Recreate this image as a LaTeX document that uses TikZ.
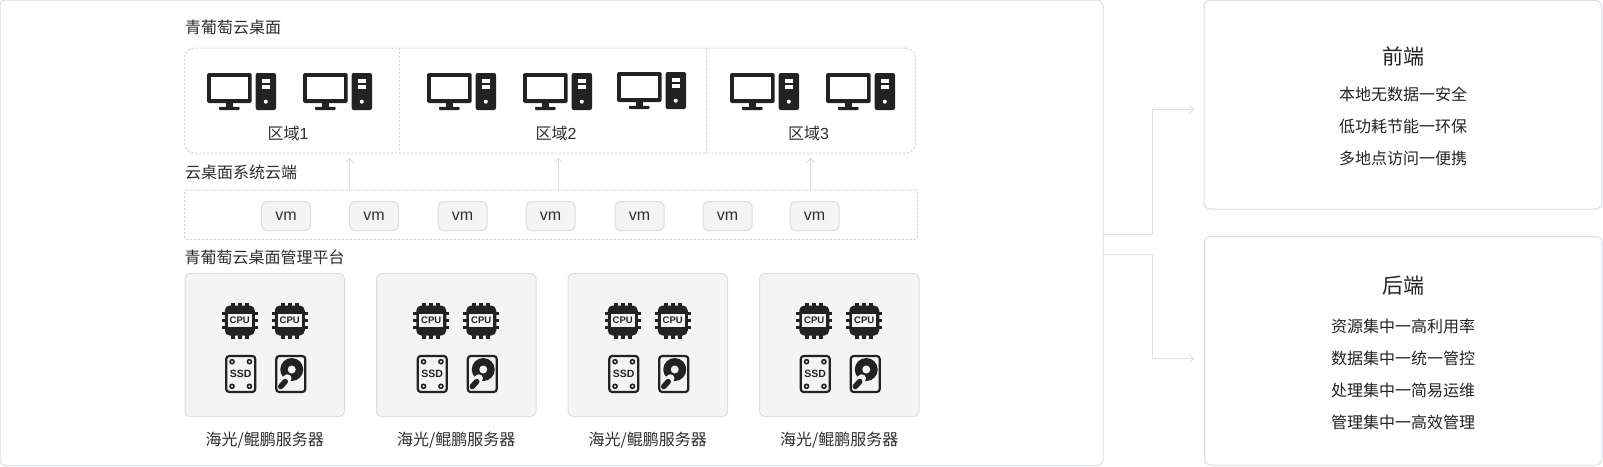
\documentclass[tikz,border=0pt]{standalone}
\usepackage{fontspec}
\usepackage{xcolor}
\setmainfont{Noto Sans CJK SC}
\newfontfamily\latinfont{Liberation Sans}
\definecolor{edgeblue}{HTML}{D6DFEC}
\definecolor{panelgray}{HTML}{DADFE6}
\definecolor{dashgray}{HTML}{D2D2D2}
\definecolor{boxgray}{HTML}{F4F4F4}
\definecolor{linegray}{HTML}{DDDDDD}
\definecolor{inkdark}{HTML}{222222}
\definecolor{textdark}{HTML}{2E2E2E}
\usetikzlibrary{arrows.meta,positioning,calc}
\newcommand{\pxfont}[1]{\fontsize{#1}{#1}\selectfont}
\tikzset{
  panel/.style={draw=edgeblue, fill=white, line width=1pt, rounded corners=6pt, anchor=north west, inner sep=0pt, outer sep=0pt},
  dashbox/.style={draw=dashgray, dash pattern=on 2pt off 2pt, line width=1pt, anchor=north west, inner sep=0pt, outer sep=0pt},
  vmbox/.style={draw=linegray, fill=boxgray, line width=1pt, rounded corners=5pt, minimum width=49pt, minimum height=29pt, inner sep=0pt, outer sep=0pt, font=\latinfont\pxfont{16}, text=textdark},
  serverbox/.style={draw=linegray, fill=boxgray, line width=1pt, rounded corners=5pt, minimum width=159.5pt, minimum height=143pt, inner sep=0pt, outer sep=0pt},
  heading/.style={anchor=west, inner sep=0pt, font=\pxfont{16}, text=textdark},
  caption/.style={inner sep=0pt, font=\pxfont{16}, text=textdark},
  bigtitle/.style={inner sep=0pt, font=\pxfont{21}, text=inkdark},
  item/.style={inner sep=0pt, font=\pxfont{16}, text=inkdark},
  link/.style={draw=edgeblue, line width=1pt, -{Straight Barb[length=4pt,width=8pt]}},
  uplink/.style={draw=linegray, line width=1pt, -{Straight Barb[length=4pt,width=8pt]}},
  pcicon/.pic={
    \fill[inkdark, rounded corners=1.5pt] (0,0) rectangle (44.7,30);
    \fill[white] (3.6,3.6) rectangle (41,26.4);
    \fill[inkdark] (18.5,30) rectangle (26,34);
    \fill[inkdark, rounded corners=0.8pt] (12,33.8) rectangle (32.5,37);
    \fill[inkdark, rounded corners=2pt] (48.7,0) rectangle (69,37);
    \fill[white] (54.7,6.3) rectangle (63,10.3);
    \fill[white] (54.7,11.7) rectangle (63,16.3);
    \fill[white] (58.8,28.7) circle (2);
  },
  cpuicon/.pic={
    \foreach \p in {-7,0,7}{
      \fill[inkdark] (\p-2,-18) rectangle (\p+2,18);
      \fill[inkdark] (-18,\p-1.5) rectangle (18,\p+1.5);
    }
    \fill[inkdark, rounded corners=5pt] (-15,-15) rectangle (15,15);
    \fill[boxgray] (-12,-6.5) rectangle (12,6.5);
    \node[inner sep=0pt, font=\latinfont\fontsize{9.5}{9.5}\bfseries\selectfont, text=inkdark] (-lbl) at (0,0) {CPU};
  },
  ssdicon/.pic={
    \draw[inkdark, line width=2.2pt, rounded corners=3pt] (-14.5,-18) rectangle (14.5,18);
    \foreach \i/\j in {-8.7/-12.3,8.7/-12.3,-8.7/12.3,8.7/12.3}{
      \draw[inkdark, line width=1.6pt] (\i,\j) circle (2);
    }
    \node[inner sep=0pt, font=\latinfont\fontsize{10.5}{10.5}\bfseries\selectfont, text=inkdark] (-lbl) at (0,0) {SSD};
  },
  hddicon/.pic={
    \draw[inkdark, line width=2.2pt, rounded corners=3pt] (-14.5,-18) rectangle (14.5,18);
    \fill[inkdark] (1,-4.5) circle (11.5);
    \fill[boxgray] (1,-4.5) circle (4);
    \draw[boxgray, line width=8.5pt, line cap=round] (-3.5,4.5) -- (-9,11);
    \draw[inkdark, line width=5.5pt, line cap=round] (-5.5,7.5) -- (-10,12.5);
  },
  serverparts/.pic={
    \pic at (-25,-24.5) {cpuicon};
    \pic at (25,-24.5) {cpuicon};
    \pic at (-24,29) {ssdicon};
    \pic at (26,29) {hddicon};
  }
}
\begin{document}
\begin{tikzpicture}[x=1pt, y=-1pt]
  \useasboundingbox (0,0) rectangle (1603,466);
  \node[panel, draw=panelgray, minimum width=1103pt, minimum height=465.5pt] (platform) at (0,0) {};
  \node[panel, minimum width=397.5pt, minimum height=208.5pt] (front) at (1204,0.5) {};
  \node[panel, minimum width=397.5pt, minimum height=228.5pt] (back) at (1204.5,236.5) {};

  \node[heading] (title) at (185,27.5) {青葡萄云桌面};
  \node[dashbox, rounded corners=10pt, minimum width=731pt, minimum height=105pt] (zones) at (184.5,48) {};
  \coordinate (div1) at (399,48);
  \coordinate (div2) at (706,48);
  \draw[dashgray, dash pattern=on 2pt off 2pt, line width=1pt] (div1 |- zones.north) -- (div1 |- zones.south);
  \draw[dashgray, dash pattern=on 2pt off 2pt, line width=1pt] (div2 |- zones.north) -- (div2 |- zones.south);
  \pic at (207,73) {pcicon};
  \pic at (303,73) {pcicon};
  \pic at (427,73) {pcicon};
  \pic at (523,73) {pcicon};
  \pic at (617,72) {pcicon};
  \pic at (730,73) {pcicon};
  \pic at (826,73) {pcicon};
  \node[caption] (zone1) at (288,133.5) {区域{\latinfont 1}};
  \node[caption] (zone2) at (556,133.5) {区域{\latinfont 2}};
  \node[caption] (zone3) at (808.5,133.5) {区域{\latinfont 3}};

  \node[heading] (cloud) at (185,172.5) {云桌面系统云端};
  \node[dashbox, rounded corners=2pt, minimum width=733pt, minimum height=49.5pt] (vmband) at (184.5,190) {};
  \node[vmbox, anchor=north west] (vm1) at (261.5,201.5) {vm};
  \node[vmbox, right=39pt of vm1] (vm2) {vm};
  \node[vmbox, right=39.5pt of vm2] (vm3) {vm};
  \node[vmbox, right=39pt of vm3] (vm4) {vm};
  \node[vmbox, right=40pt of vm4] (vm5) {vm};
  \node[vmbox, right=39pt of vm5] (vm6) {vm};
  \node[vmbox, right=38pt of vm6] (vm7) {vm};
  \coordinate (up1) at (349.5,158);
  \coordinate (up2) at (558.5,158);
  \coordinate (up3) at (810.5,158);
  \draw[uplink] (up1 |- vmband.north) -- (up1);
  \draw[uplink] (up2 |- vmband.north) -- (up2);
  \draw[uplink] (up3 |- vmband.north) -- (up3);

  \node[heading] (mgmt) at (184.5,257) {青葡萄云桌面管理平台};
  \node[serverbox, anchor=north west] (srv1) at (185,273.5) {};
  \node[serverbox, right=32pt of srv1] (srv2) {};
  \node[serverbox, right=32pt of srv2] (srv3) {};
  \node[serverbox, right=32pt of srv3] (srv4) {};
  \pic at (srv1) {serverparts};
  \pic at (srv2) {serverparts};
  \pic at (srv3) {serverparts};
  \pic at (srv4) {serverparts};
  \node[caption, below=15pt of srv1] (cap1) {海光/鲲鹏服务器};
  \node[caption, below=15pt of srv2] (cap2) {海光/鲲鹏服务器};
  \node[caption, below=15pt of srv3] (cap3) {海光/鲲鹏服务器};
  \node[caption, below=15pt of srv4] (cap4) {海光/鲲鹏服务器};

  \coordinate (frontin) at (1194,109.5);
  \coordinate (backin) at (1194,358.5);
  \draw[link] ([yshift=-1.5pt]platform.east) -- ++(49.5,0) |- (frontin);
  \draw[link] ([yshift=-21.5pt]platform.east) -- ++(49.5,0) |- (backin);

  \node[bigtitle] (fronttitle) at (1403,56) {前端};
  \node[item] (f1) at (1403,94) {本地无数据一安全};
  \node[item] (f2) at (1403,126) {低功耗节能一环保};
  \node[item] (f3) at (1403,158) {多地点访问一便携};

  \node[bigtitle] (backtitle) at (1403,286) {后端};
  \node[item] (b1) at (1403,326) {资源集中一高利用率};
  \node[item] (b2) at (1403,358) {数据集中一统一管控};
  \node[item] (b3) at (1403,390) {处理集中一简易运维};
  \node[item] (b4) at (1403,422) {管理集中一高效管理};
\end{tikzpicture}
\end{document}
